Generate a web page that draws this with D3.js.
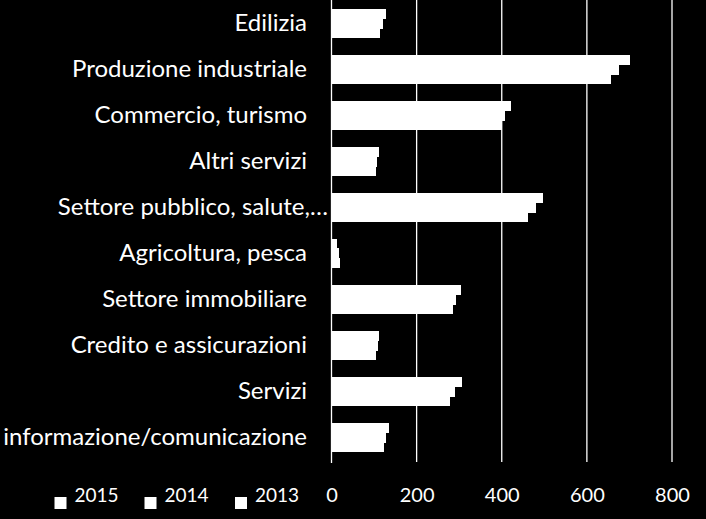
<!DOCTYPE html>
<html>
<head>
<meta charset="utf-8">
<script src="https://cdn.jsdelivr.net/npm/d3@7"></script>
<style>
  html, body { margin: 0; padding: 0; background: #000; }
  svg { display: block; }
  text { font-family: Lato, "Open Sans", sans-serif; fill: #fff; }
</style>
</head>
<body>
<svg id="chart" width="706" height="519"></svg>
<script>
const categories = ["Edilizia", "Produzione industriale", "Commercio, turismo", "Altri servizi",
  "Settore pubblico, salute,…", "Agricoltura, pesca", "Settore immobiliare",
  "Credito e assicurazioni", "Servizi", "informazione/comunicazione"];
const seriesNames = ["2015", "2014", "2013"];
const values2015 = [128, 702, 421, 112, 498, 14, 304, 112, 306, 134];
const values2014 = [121, 675, 407, 107, 480, 17, 292, 109, 290, 128];
const values2013 = [115, 656, 400, 104, 461, 20, 285, 105, 278, 123];
const xTicks = [0, 200, 400, 600, 800];

const seriesValues = [values2015, values2014, values2013];
const svg = d3.select("#chart");

const x = d3.scaleLinear().domain([0, 800]).range([331.5, 672]);
const y = d3.scaleBand().domain(categories).range([0, 460])
  .paddingInner(0.37).paddingOuter(0.185);
const ySub = d3.scaleBand().domain(seriesNames).range([0, y.bandwidth()]);

// gridlines
svg.append("g").selectAll("line").data(xTicks.slice(1)).join("line")
  .attr("x1", d => x(d)).attr("x2", d => x(d))
  .attr("y1", 0).attr("y2", 462)
  .attr("stroke", "#fff").attr("stroke-width", 1.3);

// bars
const groups = svg.append("g").selectAll("g").data(categories).join("g")
  .attr("transform", c => `translate(0,${y(c)})`);
groups.selectAll("rect")
  .data((c, i) => seriesNames.map((s, k) => ({ s, v: seriesValues[k][i] })))
  .join("rect")
  .attr("x", x(0))
  .attr("y", d => ySub(d.s))
  .attr("width", d => x(d.v) - x(0))
  .attr("height", ySub.bandwidth() + 0.8)
  .attr("shape-rendering", "crispEdges")
  .attr("fill", "#fff");

// zero axis line
svg.append("line")
  .attr("x1", x(0)).attr("x2", x(0)).attr("y1", 0).attr("y2", 463)
  .attr("stroke", "#fff").attr("stroke-width", 1.3);

// category labels
svg.append("g").selectAll("text").data(categories).join("text")
  .attr("x", d => d.endsWith("…") ? 328 : 307)
  .attr("y", d => y(d) + y.bandwidth() / 2)
  .attr("dy", "0.35em")
  .attr("text-anchor", "end")
  .attr("font-size", 24)
  .text(d => d);

// x-axis tick labels
const xAxis = d3.axisBottom(x).tickValues(xTicks).tickSize(0).tickPadding(0);
const ax = svg.append("g").attr("transform", "translate(0,488)").call(xAxis);
ax.select(".domain").remove();
ax.selectAll("text").attr("font-size", 20).attr("fill", "#fff")
  .style("font-family", "Lato, 'Open Sans', sans-serif");

// legend
const legendX = [54.5, 144.5, 235];
const lg = svg.append("g").selectAll("g").data(seriesNames).join("g")
  .attr("transform", (d, i) => `translate(${legendX[i]},0)`);
lg.append("rect").attr("x", 0).attr("y", 497).attr("width", 12).attr("height", 12).attr("fill", "#fff");
lg.append("text").attr("x", 20).attr("y", 502).attr("font-size", 19)
  .text(d => d);
</script>
</body>
</html>
